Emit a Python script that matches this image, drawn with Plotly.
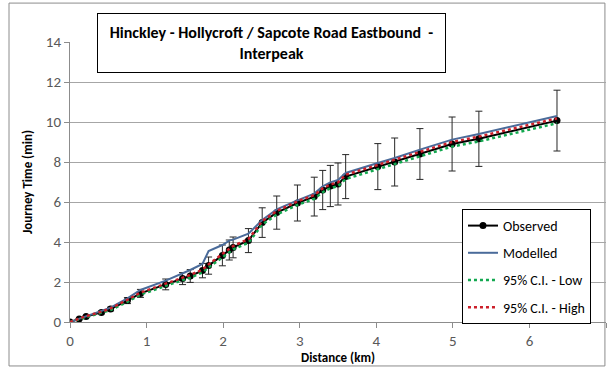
import plotly.graph_objects as go

# Journey time survey along the route (distance in km, time in minutes)
distance_km = [0, 0.12, 0.21, 0.41, 0.53, 0.75, 0.92, 1.25, 1.47, 1.57, 1.73, 1.81, 1.99, 2.08, 2.13,
               2.33, 2.51, 2.70, 2.97, 3.19, 3.30, 3.40, 3.50, 3.60, 4.02, 4.24, 4.57, 4.99, 5.34, 6.36]
observed = [0, 0.15, 0.27, 0.48, 0.65, 1.07, 1.43, 1.88, 2.17, 2.30, 2.57, 2.82, 3.33, 3.60, 3.73,
            4.07, 4.97, 5.47, 5.95, 6.27, 6.60, 6.80, 6.90, 7.27, 7.77, 8.00, 8.40, 8.90, 9.16, 10.07]
observed_err = [0, 0.02, 0.04, 0.07, 0.09, 0.15, 0.20, 0.27, 0.30, 0.32, 0.36, 0.43, 0.52, 0.50, 0.52,
                0.60, 0.74, 0.83, 0.90, 0.97, 0.98, 1.03, 1.05, 1.10, 1.15, 1.20, 1.27, 1.35, 1.38, 1.52]
modelled = [0, 0.17, 0.30, 0.55, 0.72, 1.18, 1.60, 2.07, 2.42, 2.60, 2.90, 3.55, 3.85, 4.07, 4.12,
            4.42, 5.10, 5.63, 6.08, 6.42, 6.78, 6.98, 7.10, 7.45, 7.95, 8.20, 8.62, 9.12, 9.40, 10.30]
ci_low = [0, 0.13, 0.24, 0.44, 0.60, 1.01, 1.37, 1.81, 2.09, 2.22, 2.48, 2.73, 3.23, 3.50, 3.63,
          3.96, 4.87, 5.37, 5.85, 6.16, 6.49, 6.69, 6.79, 7.15, 7.65, 7.88, 8.27, 8.77, 9.03, 9.94]
ci_high = [0, 0.16, 0.29, 0.51, 0.68, 1.11, 1.47, 1.92, 2.22, 2.35, 2.62, 2.88, 3.40, 3.67, 3.80,
           4.14, 5.04, 5.55, 6.03, 6.35, 6.68, 6.88, 6.98, 7.36, 7.86, 8.09, 8.50, 9.00, 9.27, 10.18]

x_ticks = [0, 1, 2, 3, 4, 5, 6, 7]
y_ticks = [0, 2, 4, 6, 8, 10, 12, 14]

title_text = "Hinckley - Hollycroft / Sapcote Road Eastbound  -<br>Interpeak"
FONT = "Carlito, Liberation Sans Narrow, Roboto, sans-serif"

fig = go.Figure()

fig.add_trace(go.Scatter(
    x=distance_km, y=observed, name="Observed", mode="lines+markers",
    line=dict(color="black", width=2),
    marker=dict(color="black", size=7),
    error_y=dict(type="data", array=observed_err, visible=True,
                 color="#262626", thickness=1, width=3.5),
    legendgroup="a",
))
fig.add_trace(go.Scatter(
    x=distance_km, y=modelled, name="Modelled", mode="lines",
    line=dict(color="#4a6b9a", width=2), legendgroup="b",
))
fig.add_trace(go.Scatter(
    x=distance_km, y=ci_low, name="95% C.I. - Low", mode="lines",
    line=dict(color="#12a84f", width=2.5, dash="dot"), legendgroup="c",
))
fig.add_trace(go.Scatter(
    x=distance_km, y=ci_high, name="95% C.I. - High", mode="lines",
    line=dict(color="#cc1f2a", width=2.5, dash="dot"), legendgroup="d",
))

axis_common = dict(
    showline=True, linecolor="#8c8c8c", linewidth=1,
    ticks="outside", ticklen=5, tickcolor="#8c8c8c",
    tickfont=dict(family=FONT, size=15, color="#595959"),
    zeroline=False,
)

fig.update_xaxes(
    range=[0, 7], tickvals=x_ticks, showgrid=False,
    title=dict(text="<b>Distance (km)</b>", font=dict(family=FONT, size=13, color="black"), standoff=0),
    **axis_common,
)
fig.update_yaxes(
    range=[0, 14], tickvals=y_ticks, showgrid=True, gridcolor="#a6a6a6", gridwidth=1,
    title=dict(text="<b>Journey Time (min)</b>", font=dict(family=FONT, size=13, color="black"), standoff=10),
    **axis_common,
)

fig.update_layout(
    width=607, height=369,
    margin=dict(l=70, r=1, t=42, b=47),
    paper_bgcolor="white", plot_bgcolor="white",
    font=dict(family=FONT),
    showlegend=True,
    legend=dict(
        x=0.7313, y=0.4036, xanchor="left", yanchor="top",
        bgcolor="white", bordercolor="black", borderwidth=1,
        font=dict(family=FONT, size=14, color="black"),
        traceorder="grouped", tracegroupgap=6,
        entrywidth=126, entrywidthmode="pixels",
    ),
    shapes=[dict(
        type="rect", xref="paper", yref="paper",
        x0=-0.1138, x1=0.998, y0=-0.157, y1=1.139,
        line=dict(color="#8c8c8c", width=1), fillcolor="rgba(0,0,0,0)", layer="below",
    )],
    annotations=[dict(
        text="<b>" + title_text + "</b>", xref="paper", yref="paper",
        x=0.376, y=0.996, xanchor="center", yanchor="middle",
        showarrow=False, bgcolor="white", bordercolor="black", borderwidth=1,
        width=345, height=56, borderpad=1, align="center",
        font=dict(family=FONT, size=16, color="black"),
    )],
)

fig.write_html("out.html")
